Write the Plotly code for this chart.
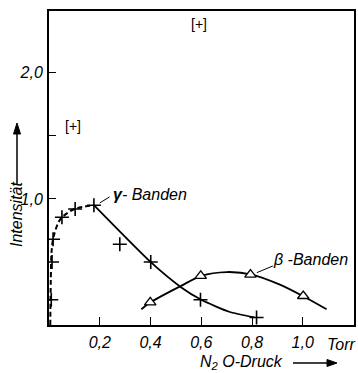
import plotly.graph_objects as go

# ---- data ----
gamma_x = [0.009, 0.012, 0.016, 0.051, 0.103, 0.177, 0.279, 0.401, 0.597, 0.818]
gamma_y = [0.20, 0.50, 0.68, 0.855, 0.92, 0.95, 0.64, 0.50, 0.20, 0.06]

beta_x = [0.399, 0.598, 0.794, 1.002]
beta_y = [0.18, 0.39, 0.40, 0.23]

# hand-drawn trend curves
gamma_dash_x = [0.005, 0.007, 0.010, 0.018, 0.045, 0.10, 0.177]
gamma_dash_y = [0.0, 0.35, 0.58, 0.70, 0.84, 0.92, 0.95]
gamma_solid_x = [0.177, 0.40, 0.52, 0.60, 0.71, 0.81]
gamma_solid_y = [0.95, 0.50, 0.30, 0.20, 0.105, 0.06]
beta_curve_x = [0.364, 0.40, 0.52, 0.60, 0.70, 0.80, 0.91, 1.00, 1.094]
beta_curve_y = [0.125, 0.18, 0.31, 0.39, 0.42, 0.40, 0.32, 0.23, 0.125]

bracket_x = [0.095, 0.59]
bracket_y = [1.58, 2.39]

x_ticks = [0.2, 0.4, 0.6, 0.8, 1.0]
x_ticktext = ["0,2", "0,4", "0,6", "0,8", "1,0"]
y_ticks = [1.0, 2.0]
y_ticktext = ["1,0", "2,0"]
y_minor_ticks = [1.5]

FONT = "Liberation Sans"
W, H = 358, 373
L, R, T, B = 49, 4, 11, 48


def px(xp, yp):
    return (xp - L) / (W - L - R), (H - B - yp) / (H - T - B)


fig = go.Figure()
fig.add_trace(go.Scatter(x=gamma_dash_x, y=gamma_dash_y, mode="lines",
                         line=dict(color="black", width=2, dash="5px,3px", shape="spline", smoothing=0.8),
                         hoverinfo="skip"))
fig.add_trace(go.Scatter(x=gamma_solid_x, y=gamma_solid_y, mode="lines",
                         line=dict(color="black", width=1.8, shape="spline", smoothing=0.6),
                         hoverinfo="skip"))
fig.add_trace(go.Scatter(x=beta_curve_x, y=beta_curve_y, mode="lines",
                         line=dict(color="black", width=1.8, shape="spline", smoothing=0.8),
                         hoverinfo="skip"))
fig.add_trace(go.Scatter(x=gamma_x, y=gamma_y, mode="markers",
                         marker=dict(symbol="cross-thin", size=10, line=dict(color="black", width=1.6)),
                         hoverinfo="skip"))
fig.add_trace(go.Scatter(x=beta_x, y=beta_y, mode="markers",
                         marker=dict(symbol="triangle-up", size=10, color="white",
                                     line=dict(color="black", width=1.3)),
                         hoverinfo="skip"))

# leader lines
fig.add_shape(type="line", x0=0.20, y0=0.968, x1=0.239, y1=1.016, line=dict(color="black", width=1))
fig.add_shape(type="line", x0=0.819, y0=0.415, x1=0.882, y1=0.468, line=dict(color="black", width=1))

italic = dict(family=FONT, size=16, color="black", style="italic")
tickf = dict(family=FONT, size=16, color="black", style="italic")
fig.add_annotation(x=0.243, y=1.035, text="<b>γ</b>- Banden", showarrow=False, xanchor="left",
                   yanchor="middle", font=italic)
fig.add_annotation(x=0.874, y=0.52, text="β -Banden", showarrow=False, xanchor="left",
                   yanchor="middle", font=italic)
for bx, by in zip(bracket_x, bracket_y):
    fig.add_annotation(x=bx, y=by, text="[+]", showarrow=False, xanchor="center",
                       yanchor="middle", font=dict(family=FONT, size=14, color="black"))

# axis titles (drawn as annotations in paper space)
ax_, ay_ = px(341, 344)
fig.add_annotation(x=ax_, y=ay_, xref="paper", yref="paper", text="Torr", showarrow=False,
                   xanchor="center", yanchor="middle", font=tickf)
ax_, ay_ = px(241, 362)
fig.add_annotation(x=ax_, y=ay_, xref="paper", yref="paper", text="N<sub>2</sub> O-Druck",
                   showarrow=False, xanchor="center", yanchor="middle", font=tickf)
ax_, ay_ = px(16, 215)
fig.add_annotation(x=ax_, y=ay_, xref="paper", yref="paper", text="Intensität", textangle=-90,
                   showarrow=False, xanchor="center", yanchor="middle", font=italic)


def ppath(pts, close=False):
    s = ""
    for i, (a, b) in enumerate(pts):
        x, y = px(a, b)
        s += ("M" if i == 0 else "L") + f"{x:.5f},{y:.5f} "
    return s + ("Z" if close else "")


# arrows next to the axis titles
fig.add_shape(type="path", xref="paper", yref="paper", path=ppath([(293, 363), (330, 363)]),
              line=dict(color="black", width=1.5))
fig.add_shape(type="path", xref="paper", yref="paper",
              path=ppath([(337, 363), (327, 359.5), (327, 366.5)], close=True),
              line=dict(color="black", width=1), fillcolor="black")
fig.add_shape(type="path", xref="paper", yref="paper", path=ppath([(17, 185), (17, 132)]),
              line=dict(color="black", width=1.5))
fig.add_shape(type="path", xref="paper", yref="paper",
              path=ppath([(17, 123), (13.5, 134), (20.5, 134)], close=True),
              line=dict(color="black", width=1), fillcolor="black")

fig.update_xaxes(range=[0, 1.202], tickvals=x_ticks, ticktext=x_ticktext, ticks="inside",
                 ticklen=8, tickwidth=1.2, tickcolor="black", showline=True, linecolor="black",
                 linewidth=2, mirror=True, showgrid=False, zeroline=False,
                 tickfont=tickf, ticklabelstandoff=2)
fig.update_yaxes(range=[0, 2.49], tickvals=y_ticks, ticktext=y_ticktext, ticks="inside",
                 ticklen=7, tickwidth=1.2, tickcolor="black", showline=True, linecolor="black",
                 linewidth=2, mirror=True, showgrid=False, zeroline=False,
                 minor=dict(tickvals=y_minor_ticks, ticks="inside", ticklen=7, tickwidth=1.2,
                            tickcolor="black", showgrid=False),
                 tickfont=tickf, ticklabelstandoff=1)
fig.update_layout(width=W, height=H, margin=dict(l=L, r=R, t=T, b=B, autoexpand=False),
                  paper_bgcolor="white", plot_bgcolor="white", showlegend=False,
                  font=dict(family=FONT, color="black"))
fig.write_html("out.html", config={"displayModeBar": False},
               post_script="document.body.style.margin='0px';")
